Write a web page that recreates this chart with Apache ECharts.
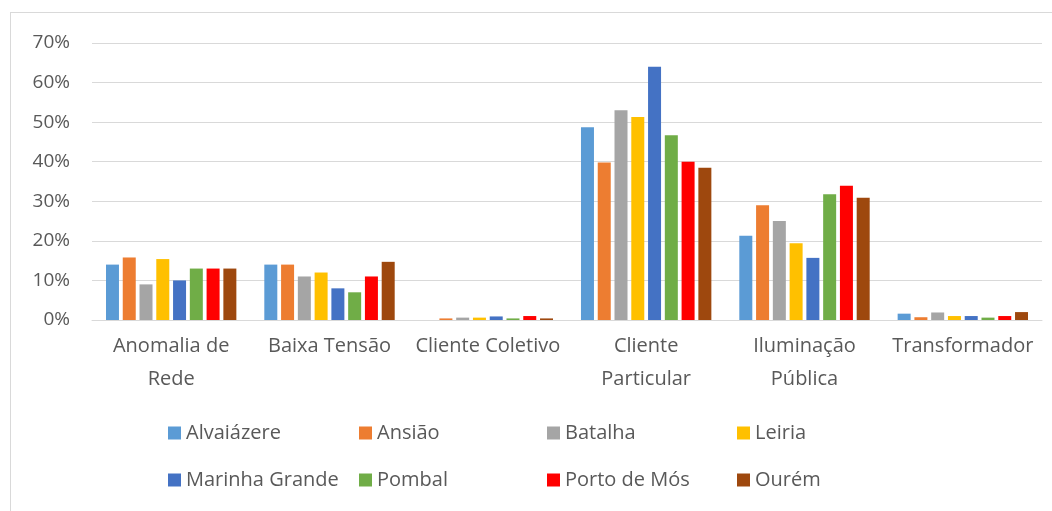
<!DOCTYPE html>
<html><head><meta charset="utf-8">
<script src="https://cdn.jsdelivr.net/npm/echarts@6/dist/echarts.min.js"></script>
<style>
html,body{margin:0;padding:0;background:#fff;}
#frame{position:absolute;left:10px;top:12px;width:1060px;height:520px;border-left:1px solid #d9d9d9;border-top:1px solid #d9d9d9;}
#c{position:absolute;left:0;top:0;width:1052px;height:511px;}
</style></head>
<body><div id="frame"></div><div id="c"></div>
<script>
const categories = ["Anomalia de\nRede","Baixa Tensão","Cliente Coletivo","Cliente\nParticular","Iluminação\nPública","Transformador"];
const seriesNames = ["Alvaiázere","Ansião","Batalha","Leiria","Marinha Grande","Pombal","Porto de Mós","Ourém"];
const colors = ["#5B9BD5","#ED7D31","#A5A5A5","#FFC000","#4472C4","#70AD47","#FF0000","#9E480E"];
const alvaiazere    = [14, 14, 0,   48.7, 21.3, 1.6];
const ansiao        = [15.8, 14, 0.4, 39.8, 29, 0.7];
const batalha       = [9, 11, 0.6, 53, 25, 1.9];
const leiria        = [15.4, 12, 0.6, 51.3, 19.4, 1];
const marinhaGrande = [10, 8, 0.9, 64, 15.7, 1];
const pombal        = [13, 7, 0.4, 46.7, 31.8, 0.6];
const portoDeMos    = [13, 11, 1, 40, 33.9, 1];
const ourem         = [13, 14.7, 0.4, 38.5, 30.9, 2];
const yTicks = [0,10,20,30,40,50,60,70];
const values = [alvaiazere, ansiao, batalha, leiria, marinhaGrande, pombal, portoDeMos, ourem];

const font = "'Open Sans', 'Noto Sans', sans-serif";
const legendX = [168, 359, 547, 737];
const legendY = [423, 470];
const legends = seriesNames.map((n,i)=>({
  data:[n], left: legendX[i%4], top: legendY[Math.floor(i/4)],
  itemWidth:13, itemHeight:13, icon:'rect', itemGap:0, padding:0,
  textStyle:{color:'#595959', fontSize:20, fontFamily:font},
  selectedMode:false
}));

const chart = echarts.init(document.getElementById('c'));
chart.setOption({
  animation:false,
  color: colors,
  grid:{left:92, right:10, top:43, bottom:191, containLabel:false},
  legend: legends,
  xAxis:{type:'category', data:categories,
    axisLine:{lineStyle:{color:'#d9d9d9'}}, axisTick:{show:false},
    axisLabel:{color:'#595959', fontSize:20, fontFamily:font, margin:10, lineHeight:33, interval:0}},
  yAxis:{type:'value', min:yTicks[0], max:yTicks[yTicks.length-1], interval:10,
    axisLine:{show:false}, axisTick:{show:false},
    splitLine:{lineStyle:{color:'#d9d9d9'}},
    axisLabel:{color:'#595959', fontSize:19, fontFamily:font, margin:22, formatter:'{value}%'}},
  series: seriesNames.map((n,i)=>({name:n, type:'bar', data:values[i], barWidth:13, barGap:'29%'}))
});
</script></body></html>
